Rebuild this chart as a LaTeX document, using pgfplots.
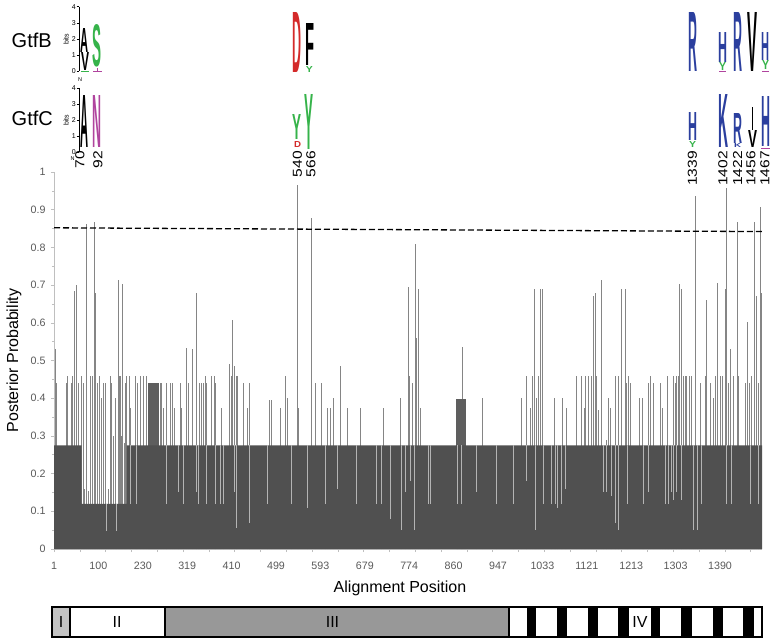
\documentclass[border=0pt]{standalone}
\usepackage{fontspec}
\setmainfont{Liberation Sans}
\usepackage{graphicx}
\usepackage{pgfplots}
\pgfplotsset{compat=1.18}
\usepackage{pgfplotstable}
\definecolor{basec}{HTML}{505050}
\definecolor{blockc}{HTML}{5E5E5E}
\definecolor{spk}{HTML}{858585}
\definecolor{dipc}{HTML}{B4B4B4}
\definecolor{axc}{HTML}{BFBFBF}
\definecolor{tickc}{HTML}{595959}
\definecolor{lgblue}{HTML}{2B3F9E}
\definecolor{lggreen}{HTML}{36B34A}
\definecolor{lgred}{HTML}{D42A2A}
\definecolor{lgpurple}{HTML}{B0449E}
\definecolor{segI}{HTML}{C3C3C3}
\definecolor{segIII}{HTML}{989898}

\newcommand{\logoL}[6]{\node[anchor=south west,inner sep=0pt,outer sep=0pt,text=#6] at (#1,#3) {\resizebox{#2bp}{#4bp}{{\bfseries #5}}};}
\newcommand{\posnum}[2]{\node[rotate=90,anchor=east,inner sep=0pt,font=\fontsize{13bp}{13bp}\selectfont] at (#1,151) {\scalebox{1.2}[1]{#2}};}

\pgfplotstableread{
x v
55.0 0.53
56.7 0.44
66.0 0.44
67.3 0.46
71.7 0.44
72.7 0.46
74.3 0.685
76.0 0.70
78.3 0.44
81.7 0.46
83.0 0.44
84.5 0.16
86.0 0.17
86.7 0.862
88.5 0.155
90.7 0.46
92.7 0.46
94.3 0.868
95.7 0.68
97.3 0.44
99.3 0.46
101.7 0.40
103.3 0.44
105.7 0.44
108.5 0.16
110.0 0.46
111.7 0.44
113.0 0.30
115.0 0.40
118.3 0.714
119.3 0.46
120.0 0.46
120.7 0.46
121.5 0.30
122.7 0.704
124.0 0.28
125.0 0.44
126.7 0.46
129.0 0.46
130.7 0.375
135.0 0.46
137.3 0.44
140.0 0.46
143.3 0.46
146.7 0.46
160.0 0.44
161.5 0.44
163.3 0.375
166.7 0.44
170.0 0.44
172.7 0.44
174.0 0.375
180.7 0.44
181.7 0.375
186.7 0.532
188.3 0.44
192.7 0.53
196.0 0.678
199.3 0.44
201.0 0.44
203.3 0.44
205.3 0.46
206.7 0.44
211.7 0.46
214.3 0.46
215.7 0.44
221.7 0.375
229.0 0.49
231.0 0.46
232.3 0.608
234.3 0.485
236.0 0.46
237.3 0.46
243.3 0.44
247.3 0.375
249.7 0.44
269.3 0.395
271.0 0.395
280.7 0.375
285.7 0.46
287.7 0.40
297.7 0.965
298.7 0.375
311.0 0.878
315.0 0.44
321.7 0.44
327.3 0.375
330.3 0.375
333.3 0.40
340.0 0.485
347.7 0.375
360.0 0.375
383.3 0.375
400.7 0.40
408.3 0.695
409.3 0.46
412.7 0.44
415.0 0.81
416.0 0.56
418.3 0.69
420.7 0.375
462.7 0.536
482.7 0.40
521.0 0.40
526.0 0.46
530.7 0.375
532.7 0.46
534.3 0.69
536.7 0.40
538.3 0.46
540.0 0.69
542.7 0.69
554.7 0.40
562.3 0.40
566.0 0.375
576.0 0.46
581.7 0.46
584.0 0.375
585.3 0.46
588.3 0.46
591.7 0.46
593.3 0.671
595.0 0.68
596.7 0.46
598.3 0.37
601.7 0.714
606.7 0.29
608.3 0.40
610.0 0.375
615.0 0.46
618.3 0.46
621.0 0.69
625.0 0.69
626.7 0.44
628.3 0.46
630.0 0.44
639.0 0.40
642.3 0.40
648.3 0.44
650.0 0.46
653.3 0.44
660.0 0.44
662.3 0.375
667.7 0.46
673.3 0.46
675.0 0.44
676.7 0.46
678.3 0.46
679.3 0.702
681.0 0.69
683.3 0.46
685.0 0.46
686.7 0.46
689.0 0.46
691.7 0.46
695.0 0.937
700.0 0.44
705.0 0.46
706.7 0.66
710.0 0.44
713.3 0.40
715.7 0.46
717.7 0.705
720.0 0.46
722.3 0.46
725.0 0.69
726.7 0.958
728.3 0.44
730.0 0.53
733.3 0.46
737.0 0.868
738.3 0.46
745.0 0.44
747.7 0.603
749.3 0.44
751.7 0.46
754.3 0.868
756.0 0.67
758.3 0.44
760.0 0.906
761.0 0.68
}\spikes

\pgfplotstableread{
x v
148.5 0.44
149.5 0.44
150.5 0.44
151.5 0.44
152.5 0.44
153.5 0.44
154.5 0.44
155.5 0.44
156.5 0.44
157.5 0.44
158.5 0.44
456.5 0.398
457.3 0.398
458.1 0.398
458.9 0.398
459.7 0.398
460.5 0.398
461.3 0.398
462.1 0.398
463.5 0.398
464.3 0.398
465.0 0.398
}\blocks

\pgfplotstableread{
x b d
106.7 0.12 0.048
116.7 0.12 0.048
130.0 0.275 0.12
136.7 0.275 0.12
166.7 0.275 0.12
178.0 0.275 0.15
183.3 0.275 0.12
196.7 0.275 0.15
198.0 0.275 0.12
206.7 0.275 0.12
215.0 0.275 0.12
220.0 0.275 0.12
223.3 0.275 0.12
234.3 0.275 0.15
236.0 0.275 0.057
249.0 0.275 0.07
267.7 0.275 0.12
291.0 0.275 0.12
307.3 0.275 0.11
325.0 0.275 0.12
337.7 0.275 0.16
356.7 0.275 0.12
376.7 0.275 0.12
381.0 0.275 0.12
390.7 0.275 0.08
401.7 0.275 0.05
405.0 0.275 0.15
410.0 0.275 0.18
414.0 0.275 0.05
428.3 0.275 0.12
430.0 0.275 0.12
457.3 0.275 0.12
461.7 0.275 0.12
476.7 0.275 0.15
496.7 0.275 0.12
513.3 0.275 0.12
526.7 0.275 0.18
535.0 0.275 0.05
543.3 0.275 0.12
551.7 0.275 0.12
555.0 0.275 0.12
557.3 0.275 0.11
561.7 0.275 0.12
565.0 0.275 0.16
603.3 0.275 0.15
606.7 0.275 0.15
611.0 0.275 0.14
615.7 0.275 0.07
618.3 0.275 0.05
627.7 0.275 0.12
643.3 0.275 0.12
648.3 0.275 0.15
665.0 0.275 0.12
668.3 0.275 0.12
671.0 0.275 0.15
673.3 0.275 0.13
676.7 0.275 0.15
681.7 0.275 0.13
693.3 0.275 0.05
697.7 0.275 0.05
701.7 0.275 0.12
726.7 0.275 0.12
731.7 0.275 0.12
750.0 0.275 0.12
758.3 0.275 0.12
}\dips

\begin{document}
\begin{tikzpicture}
\path[use as bounding box] (0bp,0bp) rectangle (774bp,-642bp);
\begin{axis}[
  at={(54bp,-549bp)}, anchor=south west,
  scale only axis, width=708bp, height=377bp,
  xmin=54, xmax=762, ymin=0, ymax=1,
  axis lines*=left,
  axis line style={draw=axc, line width=0.8bp},
  xtick={54,79.8,...,752}, xticklabels={},
  extra x ticks={54,98.4,142.8,187.2,231.6,276,320.4,364.8,409.2,453.6,498,542.4,586.8,631.2,675.6,720},
  extra x tick labels={1,100,230,319,410,499,593,679,774,860,947,1033,1121,1213,1303,1390},
  extra x tick style={major tick length=0pt},
  x tick label style={yshift=-10bp},
  y tick label style={xshift=-2bp},
  ytick={0,0.1,0.2,0.3,0.4,0.5,0.6,0.7,0.8,0.9,1},
  yticklabels={0,0.1,0.2,0.3,0.4,0.5,0.6,0.7,0.8,0.9,1},
  minor y tick num=1,
  tick align=outside, major tick length=3bp, minor tick length=2bp,
  every tick/.style={draw=axc, line width=0.6bp},
  tick label style={font=\fontsize{10.7bp}{12bp}\selectfont, text=tickc},
  /pgf/number format/assume math mode=true,
  xlabel={Alignment Position},
  xlabel style={at={(axis description cs:0.4887,-0.1034)}, anchor=center, font=\fontsize{16bp}{18bp}\selectfont},
  ylabel={Posterior Probability},
  ylabel style={at={(axis description cs:-0.0565,0.5)}, anchor=center, font=\fontsize{16bp}{18bp}\selectfont},
]
\addplot[ycomb, draw=spk, line width=0.7bp, mark=none] table[x=x,y=v] {\spikes};
\addplot[ycomb, draw=blockc, line width=1bp, mark=none] table[x=x,y=v] {\blocks};
\addplot[fill=basec, draw=none] coordinates {(54,0) (54,0.275) (81.7,0.275) (81.7,0.12) (126.7,0.12) (126.7,0.275) (762,0.275) (762,0)};
\addplot[ycomb, draw=dipc, line width=0.6bp, mark=none] table[x=x,y=b] {\dips};
\addplot[ycomb, draw=basec, line width=0.7bp, mark=none] table[x=x,y=d] {\dips};
\addplot[black, line width=1.3bp, dash pattern=on 6bp off 3bp] coordinates {(54,0.852) (762,0.842)};
\end{axis}

\begin{scope}[x=1bp,y=-1bp]
% labels
\node[anchor=west,inner sep=0pt,font=\fontsize{20bp}{20bp}\selectfont] at (11.5,40) {GtfB};
\node[anchor=west,inner sep=0pt,font=\fontsize{20bp}{20bp}\selectfont] at (11.5,118.5) {GtfC};
% logo axes
\draw[line width=0.6bp] (79,6.7)--(79,71);
\foreach \i/\y in {0/71,1/55,2/38.9,3/22.8,4/6.7}{
  \draw[line width=0.5bp] (76.5,\y)--(79,\y);
  \node[anchor=east,inner sep=0.5pt,font=\fontsize{7bp}{7bp}\selectfont] at (76.5,\y) {\i};
}
\node[rotate=90,inner sep=0pt,font=\fontsize{7bp}{7bp}\selectfont] at (66,39) {bits};
\node[inner sep=0pt,font=\fontsize{5.5bp}{5.5bp}\selectfont] at (80,79.5) {N};
\draw[line width=0.6bp] (79,88)--(79,152);
\foreach \i/\y in {0/152,1/136,2/120,3/104,4/88}{
  \draw[line width=0.5bp] (76.5,\y)--(79,\y);
  \node[anchor=east,inner sep=0.5pt,font=\fontsize{7bp}{7bp}\selectfont] at (76.5,\y) {\i};
}
\node[rotate=90,inner sep=0pt,font=\fontsize{7bp}{7bp}\selectfont] at (66,120) {bits};
\node[inner sep=0pt,font=\fontsize{5.5bp}{5.5bp}\selectfont] at (72.5,159) {N};
% GtfB logo
\logoL{81}{8}{52}{24}{A}{black}
\logoL{81}{8}{70}{18}{V}{black}
\fill[lggreen] (81,70.5) rectangle (89,71.8);
\logoL{93}{9}{67}{42}{S}{lggreen}
\fill[lgpurple] (96.8,67.5) rectangle (98,70.5);
\fill[lgpurple] (93,70.5) rectangle (102,71.5);
\logoL{293}{9}{73}{60}{D}{lgred}
\logoL{305}{9}{65}{42}{F}{black}
\logoL{306}{7}{72}{6}{Y}{lggreen}
\logoL{688}{9}{72}{59}{R}{lgblue}
\logoL{718}{9}{62}{30}{H}{lgblue}
\logoL{719}{7}{70}{8}{Y}{lggreen}
\fill[lgpurple] (719,70.5) rectangle (726,72);
\logoL{733}{9}{72}{59}{R}{lgblue}
\logoL{747}{10}{72}{59}{V}{black}
\logoL{761}{8}{60}{28}{H}{lgblue}
\logoL{762}{7}{70}{9}{Y}{lggreen}
\fill[lgpurple] (762,70.5) rectangle (769,72);
% GtfC logo
\logoL{81}{8}{147}{52}{A}{black}
\logoL{93}{9}{147}{52}{N}{lgpurple}
\logoL{293}{9}{140}{25}{Y}{lggreen}
\logoL{294}{7}{147}{6}{D}{lgred}
\logoL{305}{9}{149}{55}{Y}{lggreen}
\logoL{688}{9}{140}{28}{H}{lgblue}
\logoL{689}{7}{147}{6}{Y}{lggreen}
\logoL{718}{10}{148}{53}{K}{lgblue}
\logoL{733}{9}{143}{30}{R}{lgblue}
\logoL{734}{7}{147.5}{4}{K}{lgblue}
\fill[black] (751.6,107) rectangle (753,130);
\logoL{748}{9}{147}{17}{V}{black}
\logoL{761}{9}{147}{50}{H}{lgblue}
\fill[lgpurple] (761,147.5) rectangle (770,149);
% position numbers
\posnum{80}{70}
\posnum{98}{92}
\posnum{297.5}{540}
\posnum{311}{566}
\posnum{692.5}{1339}
\posnum{723}{1402}
\posnum{737.5}{1422}
\posnum{751}{1456}
\posnum{765}{1467}
% domain bar
\fill[segI] (52.3,607) rectangle (69.7,637);
\fill[white] (69.7,607) rectangle (164.7,637);
\fill[segIII] (164.7,607) rectangle (509.3,637);
\fill[white] (509.3,607) rectangle (762,637);
\foreach \a/\b in {526.7/536,556.7/567.3,588.3/598.3,618.3/629.3,650.7/660,680.7/691.7,712.7/722.7,743.3/754}
  \fill[black] (\a,607) rectangle (\b,637);
\draw[line width=1.8bp] (52.3,607) rectangle (762,637);
\draw[line width=1.8bp] (69.7,607)--(69.7,637);
\draw[line width=1.8bp] (164.7,607)--(164.7,637);
\draw[line width=1.8bp] (509.3,607)--(509.3,637);
\node[font=\fontsize{16bp}{16bp}\selectfont] at (61,622) {I};
\node[font=\fontsize{16bp}{16bp}\selectfont] at (117,622) {II};
\node[font=\fontsize{16bp}{16bp}\selectfont] at (332.5,622) {III};
\node[font=\fontsize{16bp}{16bp}\selectfont] at (640,622) {IV};
\end{scope}
\end{tikzpicture}
\end{document}
